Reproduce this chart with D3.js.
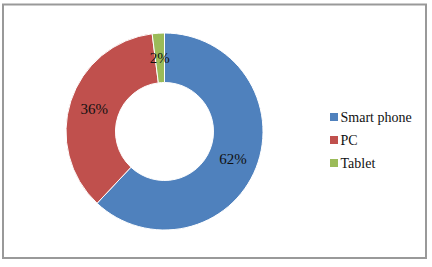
<!DOCTYPE html>
<html>
<head>
<meta charset="utf-8">
<script src="https://cdn.jsdelivr.net/npm/d3@7"></script>
</head>
<body style="margin:0">
<svg width="432" height="267" font-family="Liberation Serif"></svg>
<script>
const categories = ["Smart phone", "PC", "Tablet"];
const values = [62, 36, 2];
const colors = ["#4f81bd", "#c0504d", "#9bbb59"];

const svg = d3.select("svg");

// outer frame
svg.append("rect")
  .attr("x", 3)
  .attr("y", 4.5)
  .attr("width", 423)
  .attr("height", 253.5)
  .attr("fill", "none")
  .attr("stroke", "#999")
  .attr("stroke-width", 2);

const cx = 164.5, cy = 131.5;
const outerR = 98.5, innerR = 49;

const data = categories.map((c, i) => ({ name: c, value: values[i] }));
const colorScale = d3.scaleOrdinal().domain(categories).range(colors);

const pie = d3.pie().sort(null).value(d => d.value);
const arc = d3.arc().innerRadius(innerR).outerRadius(outerR);

const arcs = pie(data);

svg.append("g")
  .attr("transform", `translate(${cx},${cy})`)
  .selectAll("path")
  .data(arcs)
  .enter()
  .append("path")
  .attr("d", arc)
  .attr("fill", d => colorScale(d.data.name))
  .attr("stroke", "#fff")
  .attr("stroke-width", 1);

// percentage labels at slice centroids
svg.selectAll("text.pct")
  .data(arcs)
  .enter()
  .append("text")
  .attr("class", "pct")
  .attr("x", d => cx + arc.centroid(d)[0])
  .attr("y", d => cy + arc.centroid(d)[1] + 5.5)
  .attr("text-anchor", "middle")
  .attr("font-family", "Liberation Serif")
  .attr("font-size", 15)
  .attr("fill", "#111")
  .text(d => d.data.value + "%");

// legend
svg.selectAll("rect.key")
  .data(categories)
  .enter()
  .append("rect")
  .attr("class", "key")
  .attr("x", 330)
  .attr("y", (d, i) => 113 + i * 23)
  .attr("width", 8)
  .attr("height", 8)
  .attr("fill", d => colorScale(d));
svg.selectAll("text.key")
  .data(categories)
  .enter()
  .append("text")
  .attr("class", "key")
  .attr("x", 340.5)
  .attr("y", (d, i) => 122 + i * 23)
  .attr("font-family", "Liberation Serif")
  .attr("font-size", 14)
  .attr("fill", "#111")
  .text(d => d);
</script>
</body>
</html>
